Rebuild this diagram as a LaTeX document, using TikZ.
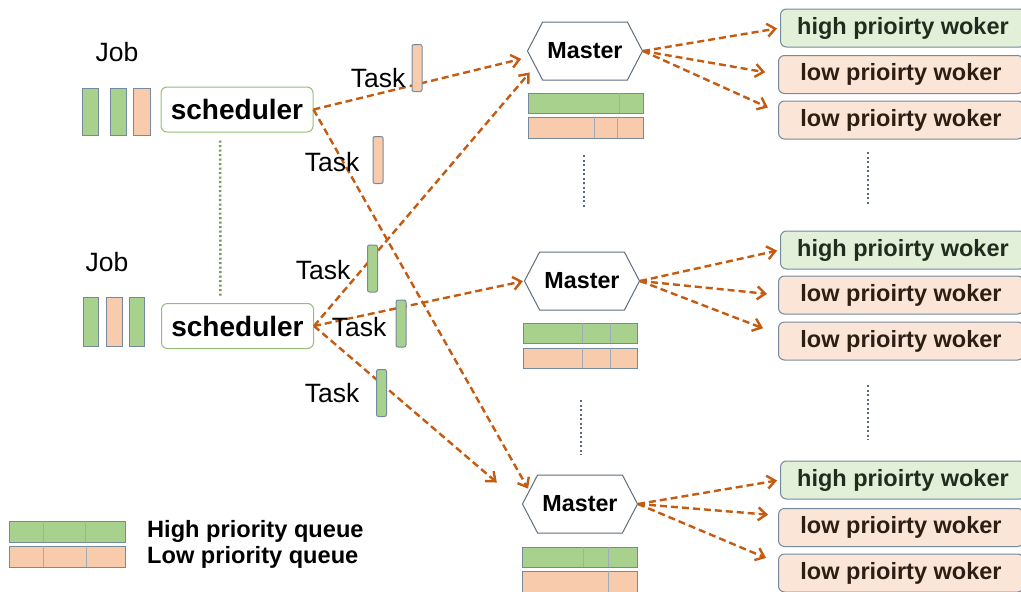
\documentclass[tikz,border=0pt]{standalone}
\usepackage{fontspec}
\setmainfont{Liberation Sans}
\usetikzlibrary{arrows.meta,shapes.symbols}

\definecolor{hifill}{RGB}{169,209,142}
\definecolor{lofill}{RGB}{248,203,173}
\definecolor{hibox}{RGB}{226,240,217}
\definecolor{lobox}{RGB}{251,229,214}
\definecolor{edgec}{RGB}{118,138,158}
\definecolor{flowc}{RGB}{197,90,17}
\definecolor{schedc}{RGB}{150,190,120}
\definecolor{dotc}{RGB}{90,105,125}
\definecolor{hitext}{RGB}{30,45,30}
\definecolor{lotext}{RGB}{45,30,20}

\tikzset{
  sched/.style={draw=schedc, line width=1pt, rounded corners=6pt, fill=white,
    minimum width=152pt, minimum height=45pt, inner sep=0pt,
    font=\fontsize{28}{30}\selectfont\bfseries},
  master/.style={signal, signal to=west and east, signal pointer angle=125,
    draw=edgec!80!black, line width=1pt, fill=white,
    minimum width=115pt, minimum height=58pt, inner sep=0pt,
    font=\fontsize{23.3}{25}\selectfont\bfseries},
  worker/.style={draw=edgec, line width=1pt, rounded corners=6pt, anchor=west,
    minimum width=245pt, minimum height=38pt, inner sep=0pt,
    font=\fontsize{23.5}{25}\selectfont\bfseries},
  hiwork/.style={worker, fill=hibox, text=hitext},
  lowork/.style={worker, fill=lobox, text=lotext},
  taskbar/.style={draw=edgec, line width=1pt, rounded corners=2pt,
    minimum width=10pt, minimum height=47pt, inner sep=0pt},
  jobbar/.style={draw=edgec, line width=1pt},
  qbar/.style={draw=edgec, line width=1pt},
  qsep/.style={draw=edgec!70, line width=0.8pt},
  lbl/.style={font=\fontsize{26.5}{28}\selectfont},
  legend/.style={anchor=west, inner sep=0pt, font=\fontsize{23.6}{25}\selectfont\bfseries},
  flow/.style={flowc, line width=2.4pt, dash pattern=on 7pt off 4pt,
    -{Straight Barb[length=8pt,width=13pt]}},
  vdots/.style={dotc, line width=2.5pt, dash pattern=on 2.2pt off 2.3pt},
}

\begin{document}
\begin{tikzpicture}[x=1pt,y=-1pt]
  \useasboundingbox (0,0) rectangle (1021,592);

  % Jobs and schedulers
  \node[lbl] (job1) at (117,52) {Job};
  \node[lbl] (job2) at (107,262) {Job};
  \filldraw[jobbar, fill=hifill] (82,88) rectangle (98,135);
  \filldraw[jobbar, fill=hifill] (110,88) rectangle (126,135);
  \filldraw[jobbar, fill=lofill] (133,88) rectangle (150,135);
  \filldraw[jobbar, fill=hifill] (83,297) rectangle (98,346);
  \filldraw[jobbar, fill=lofill] (106,297) rectangle (122,346);
  \filldraw[jobbar, fill=hifill] (129,297) rectangle (144,346);

  \node[sched] (sched1) at (237,109.5) {scheduler};
  \node[sched] (sched2) at (237.5,326) {scheduler};
  \draw[schedc!80!black, line width=2.5pt, dash pattern=on 2.2pt off 2.3pt]
    ([xshift=-17pt]sched1.south) -- ([xshift=-17pt]sched2.north)
    [shorten <=8pt, shorten >=6pt];

  % Masters
  \node[master] (master1) at (585,51) {Master};
  \node[master] (master2) at (582,281) {Master};
  \node[master] (master3) at (580,504) {Master};

  % Queues below each master
  \filldraw[qbar, fill=hifill] (528,93) rectangle (643,113);
  \draw[qsep] (619,93) -- (619,113);
  \filldraw[qbar, fill=lofill] (528,117) rectangle (643,138);
  \foreach \d in {594,617} \draw[qsep] (\d,117) -- (\d,138);

  \filldraw[qbar, fill=hifill] (523,323) rectangle (637,343);
  \foreach \d in {582,610} \draw[qsep] (\d,323) -- (\d,343);
  \filldraw[qbar, fill=lofill] (523,348) rectangle (637,368);
  \foreach \d in {582,610} \draw[qsep] (\d,348) -- (\d,368);

  \filldraw[qbar, fill=hifill] (522,547) rectangle (637,567);
  \foreach \d in {583,608} \draw[qsep] (\d,547) -- (\d,567);
  \filldraw[qbar, fill=lofill] (522,571) rectangle (637,596);
  \draw[qsep] (608,571) -- (608,596);

  % Workers
  \node[hiwork] (high1) at (780,28) {high prioirty woker};
  \node[lowork] (low1a) at (778,74.5) {low prioirty woker};
  \node[lowork] (low1b) at (778,120) {low prioirty woker};
  \node[hiwork] (high2) at (780,250) {high prioirty woker};
  \node[lowork] (low2a) at (778,295) {low prioirty woker};
  \node[lowork] (low2b) at (778,341) {low prioirty woker};
  \node[hiwork] (high3) at (780,480) {high prioirty woker};
  \node[lowork] (low3a) at (778,527.5) {low prioirty woker};
  \node[lowork] (low3b) at (778,573) {low prioirty woker};

  % Vertical dots between the groups
  \draw[vdots] (584,155) -- (584,208);
  \draw[vdots] (868,152) -- (868,205);
  \draw[vdots] (581,400) -- (581,455);
  \draw[vdots] (868,385) -- (868,440);

  % Tasks sent out by the schedulers
  \draw[flow, shorten >=9pt] (sched1.east) -- (master1.186);
  \draw[flow, shorten >=2pt] (sched1.east) -- (master3.165);
  \draw[flow, shorten >=8pt] (sched2.east) -- (master1.197);
  \draw[flow, shorten >=1pt] (sched2.east) -- (master2.west);
  \draw[flow, shorten >=33pt] (sched2.east) -- (master3.west);

  % Masters hand out to the workers
  \draw[flow, shorten >=3pt] (master1.east) -- (high1.west);
  \draw[flow, shorten >=13pt] (master1.east) -- (low1a.west);
  \draw[flow, shorten >=11pt] (master1.east) -- ([yshift=8pt]low1b.west);
  \draw[flow, shorten >=3pt] (master2.east) -- (high2.west);
  \draw[flow, shorten >=11pt] (master2.east) -- (low2a.west);
  \draw[flow, shorten >=16pt] (master2.east) -- ([yshift=7pt]low2b.west);
  \draw[flow, shorten >=3pt] (master3.east) -- (high3.west);
  \draw[flow, shorten >=10pt] (master3.east) -- ([yshift=12pt]low3a.west);
  \draw[flow, shorten >=13pt] (master3.east) -- ([yshift=10pt]low3b.west);

  % Task bars and labels
  \node[taskbar, fill=lofill] (task1) at (417,68) {};
  \node[taskbar, fill=lofill] (task2) at (378,160) {};
  \node[taskbar, fill=hifill] (task3) at (372.5,268.5) {};
  \node[taskbar, fill=hifill] (task4) at (401,323.5) {};
  \node[taskbar, fill=hifill] (task5) at (381.5,393) {};
  \node[lbl] (tlbl1) at (378,78) {Task};
  \node[lbl] (tlbl2) at (332,162) {Task};
  \node[lbl] (tlbl3) at (323,270) {Task};
  \node[lbl] (tlbl4) at (359,327) {Task};
  \node[lbl] (tlbl5) at (332,393) {Task};

  % Legend
  \filldraw[qbar, fill=hifill] (9,521) rectangle (125,542);
  \foreach \d in {43,85} \draw[qsep] (\d,521) -- (\d,542);
  \filldraw[qbar, fill=lofill] (9,546) rectangle (125,567);
  \foreach \d in {43,86} \draw[qsep] (\d,546) -- (\d,567);
  \node[legend] (lgdhigh) at (147,531) {High priority queue};
  \node[legend] (lgdlow) at (147,557) {Low priority queue};
\end{tikzpicture}
\end{document}
